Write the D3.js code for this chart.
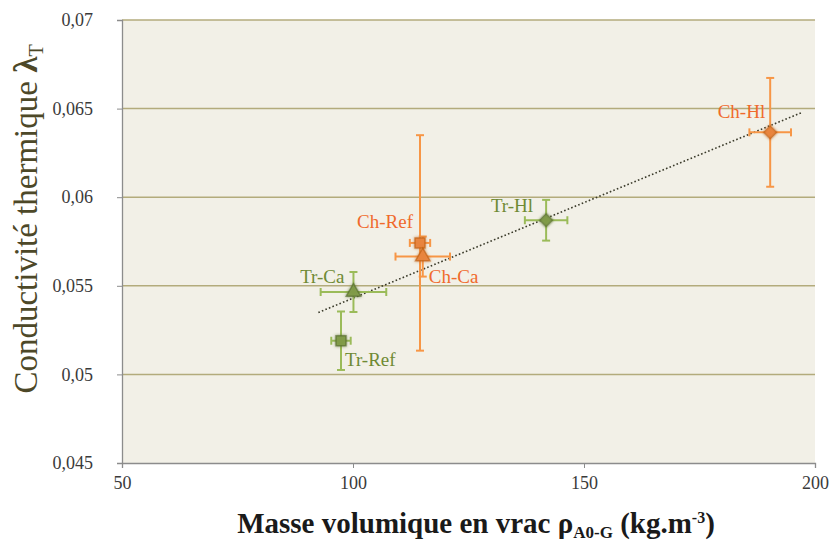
<!DOCTYPE html>
<html>
<head>
<meta charset="utf-8">
<script src="https://cdn.jsdelivr.net/npm/d3@7"></script>
<style>
  body { margin: 0; background: #fff; }
  svg { display: block; font-family: "Liberation Serif", "DejaVu Serif", serif; }
</style>
</head>
<body>
<script>
var WIDTH = 832, HEIGHT = 544;
var MARGIN = {top: 20, right: 17, bottom: 81, left: 122};
var INNER_WIDTH = WIDTH - MARGIN.left - MARGIN.right;
var INNER_HEIGHT = HEIGHT - MARGIN.top - MARGIN.bottom;

// data
var labels = ["Tr-Ref", "Tr-Ca", "Tr-Hl", "Ch-Ref", "Ch-Ca", "Ch-Hl"];
var groups = ["Tr", "Tr", "Tr", "Ch", "Ch", "Ch"];
var shapes = ["square", "triangle", "diamond", "square", "triangle", "diamond"];
var density = [97.4, 100.1, 141.8, 114.5, 115.1, 190.3];
var densityErr = [2.1, 7.1, 4.6, 2.2, 5.9, 4.5];
var conductivity = [0.0519, 0.05465, 0.0587, 0.05742, 0.05665, 0.06366];
var conductivityErr = [0.00165, 0.00113, 0.00115, 0.00608, 0.00113, 0.00307];
var xTicks = [50, 100, 150, 200];
var yTicks = [0.045, 0.05, 0.055, 0.06, 0.065, 0.07];
var trendRange = [92.5, 197.3];

var colors = {
  Tr: {bar: "#9bbb59", fill: "#7f9a48", edge: "#4f6228", text: "#6f8a34"},
  Ch: {bar: "#f79646", fill: "#e8843e", edge: "#b65708", text: "#f06a2c"}
};
// label offsets in px from the marker: [dx, dy, anchor]
var labelPos = {
  "Tr-Ref": [4, 25, "start"],
  "Tr-Ca": [-9, -9, "end"],
  "Tr-Hl": [-13, -8, "end"],
  "Ch-Ref": [-7, -15, "end"],
  "Ch-Ca": [6, 26, "start"],
  "Ch-Hl": [-5, -14, "end"]
};

var points = labels.map(function(l, i) {
  return {label: l, group: groups[i], shape: shapes[i], x: density[i], xe: densityErr[i],
          y: conductivity[i], ye: conductivityErr[i]};
});

var svg = d3.select("body").append("svg")
  .attr("width", WIDTH).attr("height", HEIGHT);

var defs = svg.append("defs");
var f = defs.append("filter").attr("id", "glow")
  .attr("x", "-60%").attr("y", "-60%").attr("width", "220%").attr("height", "220%");
f.append("feGaussianBlur").attr("in", "SourceGraphic").attr("stdDeviation", 1.8).attr("result", "b");
var fm = f.append("feMerge");
fm.append("feMergeNode").attr("in", "b");
fm.append("feMergeNode").attr("in", "SourceGraphic");

var xScale = d3.scaleLinear().domain([50, 200]).range([0, INNER_WIDTH]);
var yScale = d3.scaleLinear().domain([0.045, 0.07]).range([INNER_HEIGHT, 0]);

var g = svg.append("g").attr("transform", "translate(" + MARGIN.left + "," + MARGIN.top + ")");

g.append("rect").attr("width", INNER_WIDTH).attr("height", INNER_HEIGHT).attr("fill", "#f2f0e7");

// gridlines
g.selectAll(".grid").data(yTicks.slice(1)).enter().append("line")
  .attr("x1", 0).attr("x2", INNER_WIDTH)
  .attr("y1", function(d) { return yScale(d); }).attr("y2", function(d) { return yScale(d); })
  .attr("stroke", "#b3ab7c").attr("stroke-width", 1.5);

// axes
var fmt = function(d) { return String(+d.toFixed(3)).replace(".", ","); };
var yAxis = g.append("g").call(d3.axisLeft(yScale).tickValues(yTicks).tickFormat(fmt).tickSize(5).tickPadding(24));
var xAxis = g.append("g").attr("transform", "translate(0," + INNER_HEIGHT + ")")
  .call(d3.axisBottom(xScale).tickValues(xTicks).tickFormat(d3.format("d")).tickSize(5).tickPadding(8));
[yAxis, xAxis].forEach(function(a) {
  a.attr("font-family", "Liberation Serif, serif").attr("font-size", 18);
  a.select(".domain").attr("stroke", "#8c8c8c").attr("stroke-width", 1.3);
  a.selectAll(".tick line").attr("stroke", "#8c8c8c");
  a.selectAll("text").attr("fill", "#3a3a3a");
});

// trend line (least squares through the points)
var mx = d3.mean(density), my = d3.mean(conductivity);
var slope = d3.sum(density, function(d, i) { return (d - mx) * (conductivity[i] - my); }) /
            d3.sum(density, function(d) { return (d - mx) * (d - mx); });
var icpt = my - slope * mx;
g.append("line")
  .attr("x1", xScale(trendRange[0])).attr("y1", yScale(icpt + slope * trendRange[0]))
  .attr("x2", xScale(trendRange[1])).attr("y2", yScale(icpt + slope * trendRange[1]))
  .attr("stroke", "#3a3a2a").attr("stroke-width", 1.6).attr("stroke-dasharray", "1.6,2.2");

// error bars
var cap = 4;
var eb = g.selectAll(".err").data(points).enter().append("g")
  .attr("stroke", function(d) { return colors[d.group].bar; }).attr("stroke-width", 2);
eb.append("line")
  .attr("x1", function(d) { return xScale(d.x); }).attr("x2", function(d) { return xScale(d.x); })
  .attr("y1", function(d) { return yScale(d.y - d.ye); }).attr("y2", function(d) { return yScale(d.y + d.ye); });
eb.append("line")
  .attr("y1", function(d) { return yScale(d.y); }).attr("y2", function(d) { return yScale(d.y); })
  .attr("x1", function(d) { return xScale(d.x - d.xe); }).attr("x2", function(d) { return xScale(d.x + d.xe); });
[-1, 1].forEach(function(s) {
  eb.append("line")
    .attr("x1", function(d) { return xScale(d.x) - cap; }).attr("x2", function(d) { return xScale(d.x) + cap; })
    .attr("y1", function(d) { return yScale(d.y + s * d.ye); }).attr("y2", function(d) { return yScale(d.y + s * d.ye); });
  eb.append("line")
    .attr("y1", function(d) { return yScale(d.y) - cap; }).attr("y2", function(d) { return yScale(d.y) + cap; })
    .attr("x1", function(d) { return xScale(d.x + s * d.xe); }).attr("x2", function(d) { return xScale(d.x + s * d.xe); });
});

// markers
var symbolOf = {square: d3.symbolSquare, triangle: d3.symbolTriangle, diamond: d3.symbolSquare};
var sizeOf = {square: 100, triangle: 90, diamond: 80};
g.selectAll(".mk").data(points).enter().append("path")
  .attr("transform", function(d) {
    return "translate(" + xScale(d.x) + "," + yScale(d.y) + ")" + (d.shape === "diamond" ? " rotate(45)" : "");
  })
  .attr("d", function(d) { return d3.symbol().type(symbolOf[d.shape]).size(sizeOf[d.shape])(); })
  .attr("fill", function(d) { return colors[d.group].fill; })
  .attr("fill-opacity", 0.9)
  .attr("stroke", function(d) { return colors[d.group].edge; })
  .attr("stroke-opacity", 0.55).attr("stroke-width", 1.5)
  .attr("filter", "url(#glow)");

// point labels
g.selectAll(".lbl").data(points).enter().append("text")
  .attr("x", function(d) { return xScale(d.x) + labelPos[d.label][0]; })
  .attr("y", function(d) { return yScale(d.y) + labelPos[d.label][1]; })
  .attr("text-anchor", function(d) { return labelPos[d.label][2]; })
  .attr("font-size", 19)
  .attr("fill", function(d) { return colors[d.group].text; })
  .text(function(d) { return d.label; });

// axis titles
var yt = svg.append("text").attr("transform", "translate(37,219) rotate(-90)")
  .attr("text-anchor", "middle").attr("font-size", 33).attr("fill", "#4d4828");
yt.append("tspan").text("Conductivité thermique ");
yt.append("tspan").attr("font-weight", "bold").text("λ");
yt.append("tspan").attr("font-size", 20).attr("dy", 6).text("T");

var xt = svg.append("text").attr("x", 476).attr("y", 533)
  .attr("text-anchor", "middle").attr("font-size", 29).attr("font-weight", "bold").attr("fill", "#1a1a1a");
xt.append("tspan").text("Masse volumique en vrac ρ");
xt.append("tspan").attr("font-size", 17).attr("dy", 5).text("A0-G");
xt.append("tspan").attr("dy", -5).text(" (kg.m");
xt.append("tspan").attr("font-size", 16).attr("dy", -10).text("-3");
xt.append("tspan").attr("dy", 10).text(")");
</script>
</body>
</html>
